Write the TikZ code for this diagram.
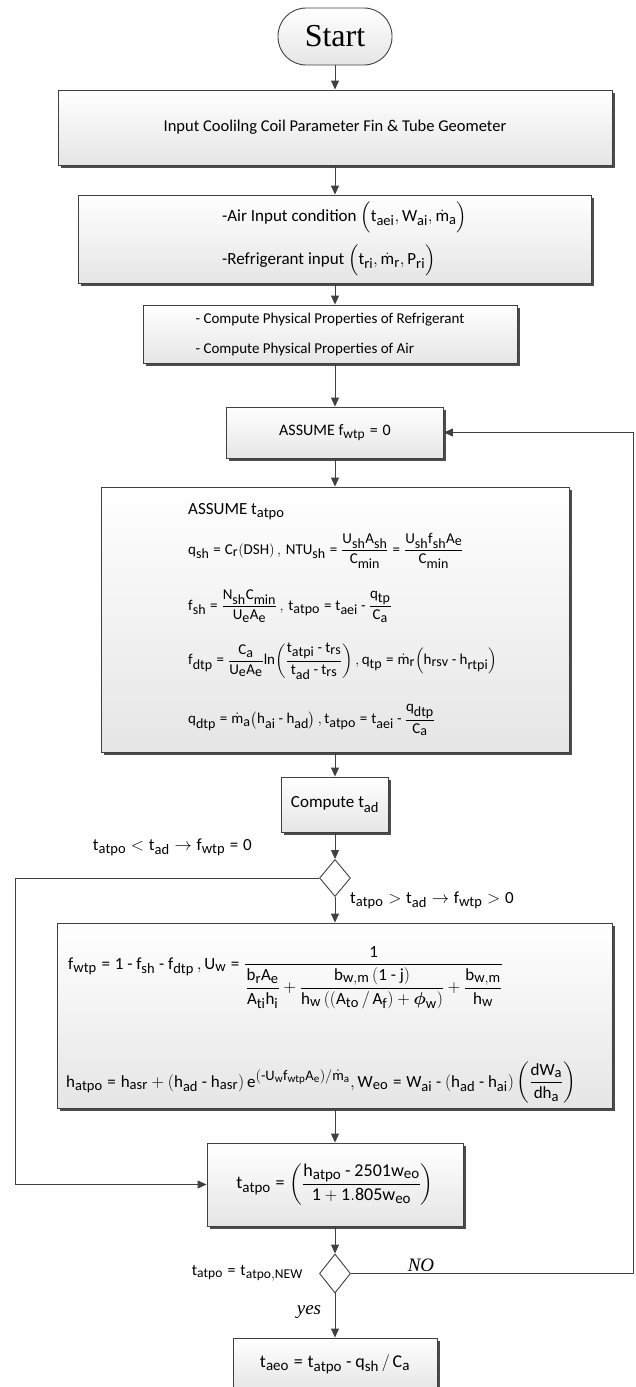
\documentclass[tikz,border=0pt]{standalone}
\usepackage{amsmath}
\usepackage{fontspec}
\setmainfont{Carlito}
\setmathrm{Carlito}
\newfontfamily\timesfont{Liberation Serif}
\usetikzlibrary{arrows.meta,shapes.geometric,shadows}
\DeclareMathSizes{15}{15}{14}{10}
\DeclareMathSizes{16}{16}{13.5}{10}
\DeclareMathSizes{17}{17}{14.5}{11}
\DeclareMathSizes{18}{18}{15}{12}
\newcommand{\vsub}[2]{\mathrm{#1}_{\mathrm{#2}}}
\newcommand{\mdotsub}[1]{\dot{\mathrm{m}}_{\mathrm{#1}}}
\newcommand{\hy}{\mathbin{\text{-}}}
\newcommand{\eqq}{\mathrel{\text{=}}}
\begin{document}
\begin{tikzpicture}[x=1pt, y=-1pt,
  box/.style={draw=black!75, line width=0.9pt, top color=white, bottom color=black!10,
    drop shadow={shadow xshift=2.5pt, shadow yshift=-2.5pt, fill=black!70, opacity=1},
    inner sep=0pt, font={\fontsize{16}{19}\selectfont}},
  startbox/.style={draw=black!75, line width=0.9pt, top color=white, bottom color=black!10,
    rounded corners=28pt, minimum width=114pt, minimum height=57pt, font={\timesfont\fontsize{32}{36}\selectfont}},
  decision/.style={diamond, draw=black!75, line width=0.9pt, fill=white, inner sep=0pt},
  eq/.style={anchor=west, inner sep=0pt, font={\fontsize{15}{18}\selectfont}},
  lbl/.style={inner sep=0pt, font={\fontsize{17}{20}\selectfont}},
  serifit/.style={inner sep=0pt, font={\timesfont\itshape\fontsize{19}{22}\selectfont}},
  arrow/.style={draw=black!75, line width=0.9pt, -{Triangle[length=9pt,width=8pt]}}
]
\useasboundingbox (0,0) rectangle (636,1387);

% main column
\node[startbox] (start) at (335,36.5) {Start};
\node[box, minimum width=554pt, minimum height=75pt, font={\fontsize{16.5}{19}\selectfont}] (inp) at (335,127.5)
  {Input Coolilng Coil Parameter Fin \& Tube Geometer};
\node[box, minimum width=513pt, minimum height=88pt] (cond) at (335,239) {};
\node[eq, align=left, font={\fontsize{17}{43}\selectfont}] (condtxt) at (222,239)
  {-Air Input condition $\Bigl(\vsub{t}{aei}, \vsub{W}{ai}, \mdotsub{a}\Bigr)$\\
   -Refrigerant input $\Bigl(\vsub{t}{ri}, \mdotsub{r}, \vsub{P}{ri}\Bigr)$};
\node[box, minimum width=374pt, minimum height=58pt, align=left, font={\fontsize{15}{30}\selectfont}] (prop) at (330,334)
  {- Compute Physical Properties of Refrigerant\\- Compute Physical Properties of Air};
\node[box, minimum width=217pt, minimum height=51pt] (fw0) at (335,432.5) {ASSUME $\vsub{f}{wtp} \eqq \mathrm{0}$};

\node[box, minimum width=468pt, minimum height=265pt] (calc) at (335,619.5) {};
\node[eq, font={\fontsize{17}{20}\selectfont}] (calc1) at (188,512) {ASSUME $\vsub{t}{atpo}$};
\node[eq] (calc2) at (188,551) {$\vsub{q}{sh}\eqq \vsub{C}{r}(\mathrm{DSH})\,,\,\vsub{NTU}{sh}\eqq \dfrac{\vsub{U}{sh}\vsub{A}{sh}}{\vsub{C}{min}} \eqq \dfrac{\vsub{U}{sh}\vsub{f}{sh}\vsub{A}{e}}{\vsub{C}{min}}$};
\node[eq] (calc3) at (188,606) {$\vsub{f}{sh}\eqq \dfrac{\vsub{N}{sh}\vsub{C}{min}}{\vsub{U}{e}\vsub{A}{e}}\,,\,\vsub{t}{atpo}\eqq \vsub{t}{aei}\hy \dfrac{\vsub{q}{tp}}{\vsub{C}{a}}$};
\node[eq] (calc4) at (188,661) {$\vsub{f}{dtp}\eqq\dfrac{\vsub{C}{a}}{\vsub{U}{e}\vsub{A}{e}}\mathrm{ln}\!\left(\dfrac{\vsub{t}{atpi}\hy\vsub{t}{rs}}{\vsub{t}{ad}\hy\vsub{t}{rs}}\right),\vsub{q}{tp}\eqq \mdotsub{r}\!\left(\vsub{h}{rsv}\hy\vsub{h}{rtpi}\right)$};
\node[eq] (calc5) at (188,720) {$\vsub{q}{dtp}\eqq\mdotsub{a}\!\left(\vsub{h}{ai}\hy\vsub{h}{ad}\right),\vsub{t}{atpo}\eqq \vsub{t}{aei}\hy\dfrac{\vsub{q}{dtp}}{\vsub{C}{a}}$};

\node[box, minimum width=107pt, minimum height=55pt, font={\fontsize{17}{20}\selectfont}] (tad) at (335,804.5) {Compute $\vsub{t}{ad}$};
\node[decision, minimum width=31pt, minimum height=37pt] (chk1) at (335,878) {};

\node[box, minimum width=555pt, minimum height=185pt] (wet) at (335,1015.5) {};
\node[eq, anchor=base west, font={\fontsize{17}{20}\selectfont}] (wet1) at (68,969)
  {$\vsub{f}{wtp} \eqq\mathrm{1}\hy \vsub{f}{sh}\hy \vsub{f}{dtp}\,,\vsub{U}{w} \eqq \dfrac{\mathrm{1}}{\dfrac{\vsub{b}{r}\vsub{A}{e}}{\vsub{A}{ti}\vsub{h}{i}} + \dfrac{\vsub{b}{w,m}\left(\mathrm{1}\hy \mathrm{j}\right)}{\vsub{h}{w}\left(\left(\vsub{A}{to}\,/\,\vsub{A}{f}\right)+\boldsymbol{\phi}_{\mathrm{w}}\right)} + \dfrac{\vsub{b}{w,m}}{\vsub{h}{w}}}$};
\node[eq, anchor=base west, font={\fontsize{17}{20}\selectfont}] (wet2) at (66,1087)
  {$\vsub{h}{atpo} \eqq \vsub{h}{asr} +\left(\vsub{h}{ad}\hy\vsub{h}{asr}\right)\mathrm{e}^{\left(\hy\vsub{U}{w}\vsub{f}{wtp}\vsub{A}{e}\right)/\dot{\mathrm{m}}_{\mathrm{a}}},\vsub{W}{eo} \eqq \vsub{W}{ai}\hy\left(\vsub{h}{ad}\hy\vsub{h}{ai}\right)\left(\dfrac{\mathrm{dW}_{\mathrm{a}}}{\mathrm{dh}_{\mathrm{a}}}\right)$};

\node[box, minimum width=256pt, minimum height=83pt, font={\fontsize{18}{21}\selectfont}] (tnew) at (335,1184.5)
  {$\vsub{t}{atpo} \eqq \left(\dfrac{\vsub{h}{atpo}\hy \mathrm{2501}\vsub{w}{eo}}{\mathrm{1}+\mathrm{1.805}\vsub{w}{eo}}\right)$};
\node[decision, minimum width=31pt, minimum height=39pt] (chk2) at (335,1273.5) {};
\node[box, minimum width=204pt, minimum height=52pt, font={\fontsize{18}{21}\selectfont}] (out) at (335,1364)
  {$\vsub{t}{aeo} \eqq \vsub{t}{atpo}\hy \vsub{q}{sh}\,/\,\vsub{C}{a}$};

% branch labels
\node[lbl, anchor=east] (lt) at (252,847) {$\vsub{t}{atpo} < \vsub{t}{ad} \rightarrow \vsub{f}{wtp} \eqq \mathrm{0}$};
\node[lbl, anchor=west] (gt) at (350,900) {$\vsub{t}{atpo} > \vsub{t}{ad} \rightarrow \vsub{f}{wtp} > \mathrm{0}$};
\node[lbl, anchor=east, font={\fontsize{16}{19}\selectfont}] (conv) at (303,1273) {$\vsub{t}{atpo} \eqq \vsub{t}{atpo,NEW}$};
\node[serifit] (no) at (421,1265) {NO};
\node[serifit] (yes) at (309,1312) {yes};

% connectors
\draw[arrow] (start) -- (inp);
\draw[arrow] (inp) -- (cond);
\draw[arrow] (cond) -- (cond |- prop.north);
\draw[arrow] (prop.south -| fw0) -- (fw0);
\draw[arrow] (fw0) -- (calc);
\draw[arrow] (calc) -- (tad);
\draw[arrow] (tad) -- (chk1);
\draw[arrow] (chk1) -- (wet);
\draw[arrow] (wet) -- (tnew);
\draw[arrow] (tnew) -- (chk2);
\draw[arrow] (chk2) -- (out);

% loops
\coordinate (leftrail) at (15,0);
\coordinate (rightrail) at (633,0);
\draw[arrow] (chk1.west) -- (chk1.west -| leftrail) |- (tnew.west);
\draw[arrow] (chk2.east) -- (chk2.east -| rightrail) |- (fw0.east);
\end{tikzpicture}
\end{document}
